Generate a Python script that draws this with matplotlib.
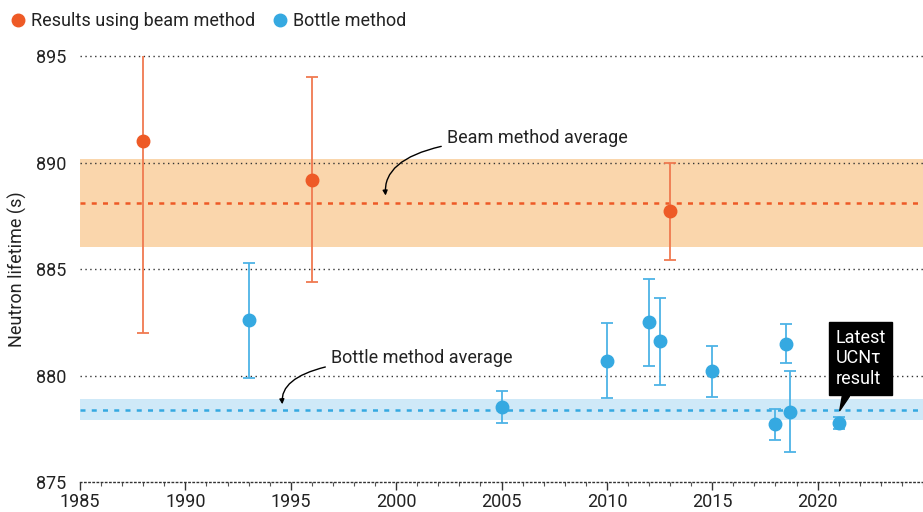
import matplotlib.pyplot as plt
from matplotlib.lines import Line2D
from matplotlib.ticker import MultipleLocator

plt.rcParams['font.family'] = ['Roboto', 'DejaVu Sans']

# beam method results
beam_year = [1988.0, 1996.0, 2013.0]
beam_life = [891.0, 889.2, 887.7]
beam_err = [9.0, 4.8, 2.3]
beam_avg = 888.1
beam_avg_err = 2.05

# bottle method results
bottle_year = [1993.0, 2005.0, 2010.0, 2012.0, 2012.5, 2015.0, 2018.0, 2018.5, 2018.7, 2021.0]
bottle_life = [882.6, 878.5, 880.7, 882.5, 881.6, 880.2, 877.7, 881.5, 878.3, 877.75]
bottle_err = [2.7, 0.75, 1.75, 2.05, 2.05, 1.2, 0.75, 0.93, 1.9, 0.28]
bottle_avg = 878.4
bottle_avg_err = 0.5

orange = '#EE5A26'
orange_band = '#FAD6AC'
blue = '#35A9E1'
blue_band = '#CFE9F8'
txt = '#222222'
fs = 13

fig = plt.figure(figsize=(9.23, 5.12), dpi=100)
ax = fig.add_axes([0.0867, 0.0586, 0.9133, 0.832])

ax.set_xlim(1985, 2025)
ax.set_ylim(875, 895)

# average bands
ax.axhspan(beam_avg - beam_avg_err, beam_avg + beam_avg_err, color=orange_band, lw=0, zorder=0)
ax.axhspan(bottle_avg - bottle_avg_err, bottle_avg + bottle_avg_err, color=blue_band, lw=0, zorder=0)

# grid
for v in [880, 885, 890, 895]:
    ax.axhline(v, color='#333333', lw=1, ls=(0, (1, 2.5)), zorder=1, clip_on=False)

ax.axhline(beam_avg, color=orange, lw=1.8, ls=(0, (2, 2.5)), zorder=2)
ax.axhline(bottle_avg, color=blue, lw=1.8, ls=(0, (2, 2.5)), zorder=2)

ax.errorbar(beam_year, beam_life, yerr=beam_err, fmt='o', color=orange, ms=9,
            ecolor='#F07A50', elinewidth=1.3, capsize=4, capthick=1.3, zorder=4)
ax.errorbar(bottle_year, bottle_life, yerr=bottle_err, fmt='o', color=blue, ms=9,
            ecolor='#4DB3E6', elinewidth=1.3, capsize=4, capthick=1.3, zorder=4)

# annotations
arrow = dict(arrowstyle='-|>', color='black', lw=1, mutation_scale=7,
             connectionstyle='angle3,angleA=0,angleB=95', shrinkA=2, shrinkB=0)
ax.annotate('Beam method average', xy=(1999.5, 888.45), xytext=(2002.4, 891.15),
            fontsize=fs, color=txt, va='center', ha='left', arrowprops=arrow)
ax.annotate('Bottle method average', xy=(1994.6, 878.65), xytext=(1996.9, 880.8),
            fontsize=fs, color=txt, va='center', ha='left', arrowprops=arrow)

ax.annotate('Latest\nUCNτ\nresult', xy=(2021.05, 878.35), xytext=(2022.05, 880.8),
            fontsize=fs, color='white', ha='center', va='center', multialignment='left',
            linespacing=1.2, zorder=6,
            bbox=dict(boxstyle='square,pad=0.35', fc='black', ec='black'),
            arrowprops=dict(arrowstyle='wedge,tail_width=0.4,shrink_factor=0.5',
                            fc='black', ec='black', shrinkA=0, shrinkB=0))

# axes styling
for s in ['top', 'right', 'left']:
    ax.spines[s].set_visible(False)
ax.spines['bottom'].set_linestyle((0, (1, 2)))
ax.spines['bottom'].set_color('#333333')
ax.spines['bottom'].set_linewidth(1)

ax.xaxis.set_minor_locator(MultipleLocator(1))
ax.set_xticks(range(1985, 2021, 5))
ax.tick_params(axis='x', which='major', length=6, width=1, color='#333333',
               labelsize=fs, labelcolor=txt, pad=2)
ax.tick_params(axis='x', which='minor', length=3, width=0.8, color='#555555')
ax.set_yticks([875, 880, 885, 890, 895])
ax.tick_params(axis='y', length=0, labelsize=fs, labelcolor=txt, pad=10)
ax.set_ylabel('Neutron lifetime (s)', fontsize=fs, color=txt, labelpad=6)

handles = [Line2D([], [], marker='o', ls='none', color=orange, ms=9),
           Line2D([], [], marker='o', ls='none', color=blue, ms=9)]
fig.legend(handles, ['Results using beam method', 'Bottle method'], loc='upper left',
           bbox_to_anchor=(-0.008, 1.005), ncol=2, frameon=False, fontsize=fs,
           handletextpad=0.1, columnspacing=0.8, handlelength=1.2,
           labelcolor=txt, borderaxespad=0.4)

fig.savefig('out.png', dpi=100)
